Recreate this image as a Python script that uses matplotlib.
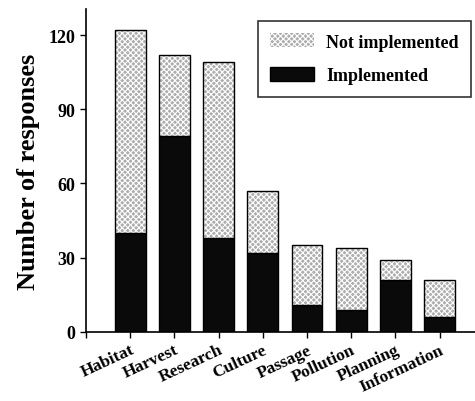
import matplotlib
matplotlib.use("Agg")
import matplotlib.pyplot as plt
from matplotlib.patches import Patch

categories = ["Habitat", "Harvest", "Research", "Culture", "Passage",
              "Pollution", "Planning", "Information"]
implemented = [40, 79, 38, 32, 11, 9, 21, 6]
not_implemented = [82, 33, 71, 25, 24, 25, 8, 15]

plt.rcParams['font.family'] = ['Liberation Serif', 'DejaVu Serif']
plt.rcParams['font.weight'] = 'bold'
plt.rcParams['hatch.linewidth'] = 0.8

fig = plt.figure(figsize=(4.75, 4.02), dpi=100)
ax = fig.add_axes([0.181, 0.172, 0.819, 0.803])

pos = list(range(1, len(categories) + 1))
w = 0.7
light = '#adadad'

ax.bar(pos, implemented, width=w, color='#0a0a0a', edgecolor='black', linewidth=1)
# stippled "not implemented" segment: fill + white hatch, then outline
ax.bar(pos, not_implemented, width=w, bottom=implemented, color=light,
       edgecolor='white', hatch='xxxxxx', linewidth=0)
ax.bar(pos, not_implemented, width=w, bottom=implemented, fill=False,
       edgecolor='black', linewidth=1)

ax.set_xlim(0, 8.8)
ax.set_ylim(0, 130.5)
ax.set_yticks([0, 30, 60, 90, 120])
ax.set_xticks([0] + pos)
ax.set_xticklabels([''] + categories, rotation=25, ha='right',
                   rotation_mode='anchor', fontsize=12.5, fontweight='bold')
ax.tick_params(axis='y', labelsize=13, direction='out', length=4, width=1)
ax.tick_params(axis='x', direction='out', length=4, width=1, pad=3)
for lab in ax.get_yticklabels():
    lab.set_fontweight('bold')
ax.spines['top'].set_visible(False)
ax.spines['right'].set_visible(False)
ax.spines['left'].set_linewidth(1.2)
ax.spines['bottom'].set_linewidth(1.2)
ax.set_ylabel("Number of responses", fontsize=19, fontweight='bold', labelpad=6)

handles = [Patch(facecolor=light, edgecolor='white', hatch='xxxxxx', linewidth=0),
           Patch(facecolor='#0a0a0a', edgecolor='black')]
leg = ax.legend(handles, ["Not implemented", "Implemented"], loc='upper right',
                bbox_to_anchor=(1.0, 0.975), frameon=True,
                fancybox=False, edgecolor='black', handlelength=2.4,
                handleheight=0.8, borderpad=0.7, labelspacing=0.9,
                handletextpad=0.7, borderaxespad=0.2,
                prop={'weight': 'bold', 'size': 13})
leg.get_frame().set_linewidth(1.2)

fig.savefig("out.png", dpi=100)
